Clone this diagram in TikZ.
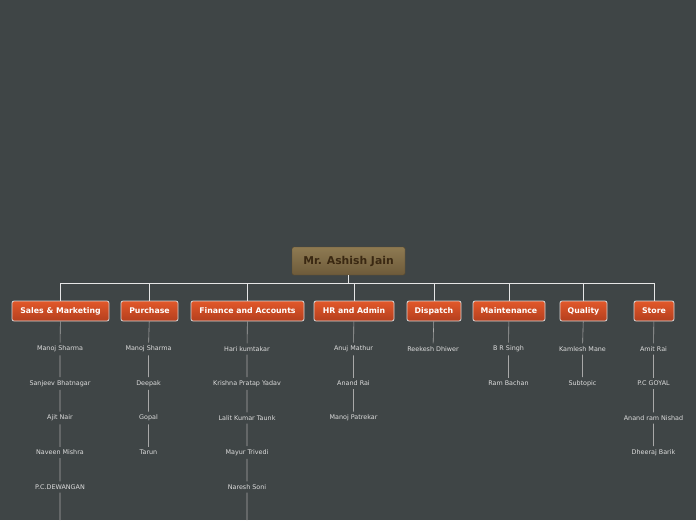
\documentclass[tikz,border=0pt]{standalone}
\usepackage{fontspec}
\setmainfont{DejaVu Sans}
\definecolor{bg}{HTML}{3F4546}
\definecolor{roottop}{HTML}{8E7A52}
\definecolor{rootbot}{HTML}{6E5B3A}
\definecolor{roottext}{HTML}{3A2812}
\definecolor{cattop}{HTML}{E2582A}
\definecolor{catbot}{HTML}{B43F1E}
\definecolor{catborder}{HTML}{D8D8D8}
\definecolor{leaftext}{HTML}{DDDDDD}
\definecolor{linkcol}{HTML}{A8A8A8}
\definecolor{toplink}{HTML}{E6E6E6}
\tikzset{
  rootbox/.style={rectangle, rounded corners=1.5pt, top color=roottop, bottom color=rootbot,
    draw=rootbot!80!black, line width=0.4pt, minimum width=113pt, minimum height=28pt,
    font=\fontsize{10.8}{12}\selectfont\bfseries, text=roottext},
  catbox/.style={rectangle, rounded corners=2pt, top color=cattop, bottom color=catbot,
    draw=catborder, line width=0.8pt, minimum height=20pt, inner xsep=2pt,
    font=\fontsize{7.8}{9}\selectfont\bfseries, text=white},
  leaf/.style={inner sep=3pt, font=\fontsize{6.4}{7.5}\selectfont, text=leaftext},
  toplinkstyle/.style={draw=toplink, line width=1pt},
  link/.style={draw=linkcol, line width=0.6pt}
}
\begin{document}
\begin{tikzpicture}[x=1pt,y=-1pt]
\fill[bg] (0,0) rectangle (696,520);
\useasboundingbox (0,0) rectangle (696,520);
\clip (0,0) rectangle (696,520);

\node[rootbox] (root) at (348.5,261) {Mr. Ashish Jain};

\node[catbox, minimum width=97pt] (c1) at (60.5,311) {Sales \& Marketing};
\node[catbox, minimum width=57pt] (c2) at (149.5,311) {Purchase};
\node[catbox, minimum width=113pt] (c3) at (247.5,311) {Finance and Accounts};
\node[catbox, minimum width=80pt] (c4) at (354,311) {HR and Admin};
\node[catbox, minimum width=54pt] (c5) at (434,311) {Dispatch};
\node[catbox, minimum width=72pt] (c6) at (509,311) {Maintenance};
\node[catbox, minimum width=47pt] (c7) at (583.5,311) {Quality};
\node[catbox, minimum width=40pt] (c8) at (654,311) {Store};

\coordinate (hub) at (348.5,283);
\draw[toplinkstyle] (root.south) -- (hub);
\foreach \c in {c1,c2,c3,c4,c5,c6,c7,c8}{
  \draw[toplinkstyle] (hub) -| (\c.north);
}

% Sales & Marketing
\node[leaf] (s1) at (60,349) {Manoj Sharma};
\node[leaf] (s2) at (60,383.5) {Sanjeev Bhatnagar};
\node[leaf] (s3) at (60,418) {Ajit Nair};
\node[leaf] (s4) at (60,452.5) {Naveen Mishra};
\node[leaf] (s5) at (60,487) {P.C.DEWANGAN};
\coordinate (s6) at (60,520);
\draw[link] (c1) -- (s1) -- (s2) -- (s3) -- (s4) -- (s5) -- (s6);

% Purchase
\node[leaf] (p1) at (148.5,349) {Manoj Sharma};
\node[leaf] (p2) at (148.5,383.5) {Deepak};
\node[leaf] (p3) at (148.5,418) {Gopal};
\node[leaf] (p4) at (148.5,452.5) {Tarun};
\draw[link] (c2) -- (p1) -- (p2) -- (p3) -- (p4);

% Finance and Accounts
\node[leaf] (f1) at (247,349) {Hari kumtakar};
\node[leaf] (f2) at (247,383.5) {Krishna Pratap Yadav};
\node[leaf] (f3) at (247,418) {Lalit Kumar Taunk};
\node[leaf] (f4) at (247,452.5) {Mayur Trivedi};
\node[leaf] (f5) at (247,487) {Naresh Soni};
\coordinate (f6) at (247,520);
\draw[link] (c3) -- (f1) -- (f2) -- (f3) -- (f4) -- (f5) -- (f6);

% HR and Admin
\node[leaf] (h1) at (353.5,349) {Anuj Mathur};
\node[leaf] (h2) at (353.5,383.5) {Anand Rai};
\node[leaf] (h3) at (353.5,418) {Manoj Patrekar};
\draw[link] (c4) -- (h1) -- (h2) -- (h3);

% Dispatch
\node[leaf] (d1) at (433,349) {Reekesh Dhiwer};
\draw[link] (c5) -- (d1);

% Maintenance
\node[leaf] (m1) at (508.5,349) {B R Singh};
\node[leaf] (m2) at (508.5,383.5) {Ram Bachan};
\draw[link] (c6) -- (m1) -- (m2);

% Quality
\node[leaf] (q1) at (582.5,349) {Kamlesh Mane};
\node[leaf] (q2) at (582.5,383.5) {Subtopic};
\draw[link] (c7) -- (q1) -- (q2);

% Store
\node[leaf] (t1) at (653.5,349) {Amit Rai};
\node[leaf] (t2) at (653.5,383.5) {P.C GOYAL};
\node[leaf] (t3) at (653.5,418) {Anand ram Nishad};
\node[leaf] (t4) at (653.5,452.5) {Dheeraj Barik};
\draw[link] (c8) -- (t1) -- (t2) -- (t3) -- (t4);
\end{tikzpicture}
\end{document}
